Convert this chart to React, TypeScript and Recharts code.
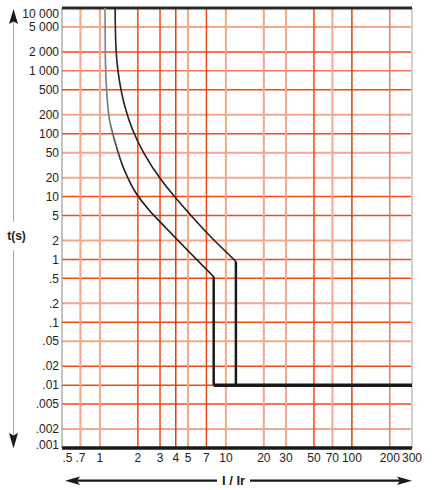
import React from 'react';
import { LineChart, Line, XAxis, YAxis, ReferenceLine } from 'recharts';

// Tick values and labels
const xTicks = [0.5, 0.7, 1, 2, 3, 4, 5, 7, 10, 20, 30, 50, 70, 100, 200, 300];
const xTickLabels = ['.5', '.7', '1', '2', '3', '4', '5', '7', '10', '20', '30', '50', '70', '100', '200', '300'];
const yTicks = [0.001, 0.002, 0.005, 0.01, 0.02, 0.05, 0.1, 0.2, 0.5, 1, 2, 5, 10, 20, 50, 100, 200, 500, 1000, 2000, 5000, 10000];
const yTickLabels = ['.001', '.002', '.005', '.01', '.02', '.05', '.1', '.2', '.5', '1', '2', '5', '10', '20', '50', '100', '200', '500', '1 000', '2 000', '5 000', '10 000'];

// Grid styling groups
const lightX = [0.7, 1, 5, 10, 20, 30, 70];
const darkX = [4, 100];
const midX = [200];
const lightY = [5000, 200, 50, 20, 2, 0.2, 0.05, 0.002];
const midY = [1000];

// Curve data: I/Ir and t(s)
const leftCurveI = [1.097, 1.103, 1.13, 1.193, 1.305, 1.561, 1.933, 2.452, 3.345, 8];
const leftCurveT = [10000, 2000, 500, 165, 79.4, 26.5, 11.4, 6.1, 3.16, 0.53];
const leftDropI = [8, 8];
const leftDropT = [0.53, 0.01];
const rightCurveI = [1.32, 1.334, 1.4, 1.58, 1.82, 2.225, 3.07, 4.0, 5.33, 7.75, 12];
const rightCurveT = [10000, 3000, 915, 269, 114.6, 49.4, 18.35, 9.49, 4.91, 2.19, 0.93];
const rightDropI = [12, 12];
const rightDropT = [0.93, 0.01];
const floorI = [8, 300];
const floorT = [0.01, 0.01];

const zip = (is: number[], ts: number[]) => is.map((i, k) => ({ i, t: ts[k] }));

const FONT = '"Liberation Sans", Arial, sans-serif';

const YTick = (props: any) => {
  const { x, y, payload } = props;
  const idx = yTicks.indexOf(payload.value);
  let off = 0;
  if (payload.value === 10000) off = 5.5;
  if (payload.value === 0.001) off = -3.5;
  return (
    <text x={x} y={y + off} dy="0.355em" textAnchor="end" fontSize={12} fontFamily={FONT} fill="#222">
      {yTickLabels[idx]}
    </text>
  );
};

const XTick = (props: any) => {
  const { x, y, payload } = props;
  const idx = xTicks.indexOf(payload.value);
  const first = payload.value === 0.5;
  return (
    <text x={first ? x + 0.5 : x} y={y} dy="0.71em" textAnchor={first ? 'start' : 'middle'} fontSize={12} fontFamily={FONT} fill="#222">
      {xTickLabels[idx]}
    </text>
  );
};

const STRONG = '#f04a12';
const LIGHT = '#f7a58c';
const DARK = '#d8400c';
const MID = '#ee7a58';

const xColor = (v: number) => (darkX.includes(v) ? DARK : midX.includes(v) ? MID : lightX.includes(v) ? LIGHT : STRONG);
const yColor = (v: number) => (midY.includes(v) ? MID : lightY.includes(v) ? LIGHT : STRONG);

export default function App() {
  const innerX = xTicks.slice(1, -1);
  const innerY = yTicks.slice(1, -1);
  return (
    <div style={{ position: 'absolute', left: 0, top: 0, width: 437, height: 490, background: '#fff' }}>
      <svg width={0} height={0} style={{ position: 'absolute' }}>
        <defs>
          <linearGradient id="leftGrad" x1="0" y1="0" x2="0" y2="1">
            <stop offset="0" stopColor="#8a8a8a" />
            <stop offset="0.42" stopColor="#7a7a7a" />
            <stop offset="0.6" stopColor="#222" />
            <stop offset="1" stopColor="#1a1a1a" />
          </linearGradient>
        </defs>
      </svg>
      <LineChart width={437} height={490} margin={{ top: 8, right: 25, bottom: 12, left: 2 }}>
        <XAxis
          dataKey="i"
          type="number"
          scale="log"
          domain={[0.5, 300]}
          ticks={xTicks}
          allowDataOverflow
          axisLine={false}
          tickLine={false}
          tickSize={0}
          tickMargin={5}
          height={30}
          interval={0}
          tick={<XTick />}
        />
        <YAxis
          type="number"
          scale="log"
          domain={[0.001, 10000]}
          ticks={yTicks}
          allowDataOverflow
          axisLine={false}
          tickLine={false}
          tickSize={0}
          tickMargin={3}
          width={60}
          interval={0}
          tick={<YTick />}
        />
        {innerY.map((v) => (
          <ReferenceLine key={'gy' + v} y={v} stroke={yColor(v)} strokeWidth={yColor(v) === LIGHT ? 2 : 1.5} />
        ))}
        {innerX.map((v) => (
          <ReferenceLine key={'gx' + v} x={v} stroke={xColor(v)} strokeWidth={xColor(v) === LIGHT ? 2 : 1.5} />
        ))}
        <ReferenceLine x={0.5} stroke="#888" strokeWidth={1} />
        <ReferenceLine x={300} stroke="#cfcfcf" strokeWidth={2} />
        <ReferenceLine y={10000} stroke="#2a2a2a" strokeWidth={3} />
        <ReferenceLine y={0.001} stroke="#1a1a1a" strokeWidth={3.5} />
        <Line data={zip(leftCurveI, leftCurveT)} dataKey="t" type="monotoneY" stroke="url(#leftGrad)" strokeWidth={1.7} dot={false} isAnimationActive={false} strokeLinejoin="round" />
        <Line data={zip(leftDropI, leftDropT)} dataKey="t" type="linear" stroke="#1a1a1a" strokeWidth={2.5} dot={false} isAnimationActive={false} />
        <Line data={zip(rightCurveI, rightCurveT)} dataKey="t" type="monotoneY" stroke="#222" strokeWidth={1.6} dot={false} isAnimationActive={false} strokeLinejoin="round" />
        <Line data={zip(rightDropI, rightDropT)} dataKey="t" type="linear" stroke="#1a1a1a" strokeWidth={2.5} dot={false} isAnimationActive={false} />
        <Line data={zip(floorI, floorT)} dataKey="t" type="linear" stroke="#1a1a1a" strokeWidth={3.5} dot={false} isAnimationActive={false} />
      </LineChart>
      <svg width={437} height={490} style={{ position: 'absolute', left: 0, top: 0, pointerEvents: 'none' }}>
        <line x1={13.5} y1={22} x2={13.5} y2={222} stroke="#aaa" strokeWidth={1} />
        <line x1={13.5} y1={250} x2={13.5} y2={435} stroke="#aaa" strokeWidth={1} />
        <path d="M13.5,9 L18,24 L13.5,21.5 L9,24 Z" fill="#1a1a1a" />
        <path d="M13.5,448.5 L18,433 L13.5,435.5 L9,433 Z" fill="#1a1a1a" />
        <text x={16.5} y={235.5} dy="0.355em" textAnchor="middle" fontSize={12} fontWeight="bold" fontFamily={FONT} fill="#222">t(s)</text>
        <line x1={74} y1={480.7} x2={217} y2={480.7} stroke="#1a1a1a" strokeWidth={2.2} />
        <line x1={250} y1={480.7} x2={403} y2={480.7} stroke="#1a1a1a" strokeWidth={2.2} />
        <path d="M65,480.7 L80,476.5 L77,480.7 L80,484.9 Z" fill="#1a1a1a" />
        <path d="M412,480.7 L397,476.5 L400,480.7 L397,484.9 Z" fill="#1a1a1a" />
        <text x={233.5} y={484.5} textAnchor="middle" fontSize={13} fontWeight="bold" fontFamily={FONT} fill="#222">I / Ir</text>
      </svg>
    </div>
  );
}
